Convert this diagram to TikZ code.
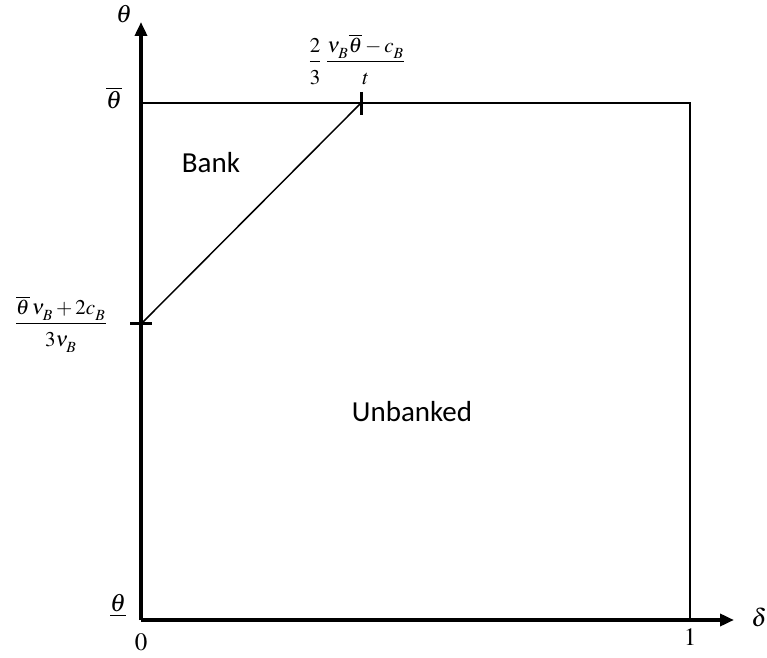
\documentclass[tikz,border=0pt]{standalone}
\usepackage{amsmath}
\usepackage{mathptmx}
\usepackage{fontspec}
\setmainfont{Liberation Serif}
\newfontfamily\calibri{Carlito}
\usepackage{tikz}
\usetikzlibrary{arrows.meta, positioning}
\newcommand{\subB}{_{\lower1.5pt\hbox{$\scriptstyle B$}}}

\begin{document}
\begin{tikzpicture}[x=0.5pt, y=-0.5pt,
    axis/.style={line width=2pt, -{Triangle[length=7pt,width=6pt]}},
    edge/.style={line width=1pt},
    diag/.style={line width=0.75pt},
    tick/.style={line width=1.5pt},
    lbl/.style={font=\fontsize{12.5}{14}\selectfont, inner sep=1pt},
    frac/.style={font=\fontsize{10.5}{12}\selectfont, inner sep=0pt},
    region/.style={font=\calibri\fontsize{14.5}{16}\selectfont}]
  \useasboundingbox (0,0) rectangle (767,658);
  % corners of the square and axis ends
  \coordinate (O) at (141,620);
  \coordinate (ytip) at (141,22);
  \coordinate (xtip) at (734,620);
  \coordinate (tl) at (141,103);
  \coordinate (tr) at (690,103);
  \coordinate (br) at (690,620);
  \coordinate (lo) at (141,324);
  \coordinate (hi) at (361,103);
  % square and boundary line
  \draw[edge] (tl) -- (tr) -- (br);
  \draw[diag] (lo) -- (hi);
  \draw[tick] (lo) ++(-11,0) coordinate (lo1) -- ++(22,0) coordinate (lo2);
  \draw[tick] (hi) ++(0,-11) coordinate (hi1) -- ++(0,23) coordinate (hi2);
  % axes
  \draw[axis] (O) -- (ytip);
  \draw[axis] (O) -- (xtip);
  % labels
  \node[lbl] (thetalab) at (124,14) {$\theta$};
  \node[lbl] (deltalab) at (759,617) {$\delta$};
  \node[lbl] (thetabar) at (114,98) {$\overline{\theta}$};
  \node[lbl] (thetaund) at (118,606) {$\underline{\theta}$};
  \node[lbl] (zero) at (141,642) {$0$};
  \node[lbl] (one) at (690,637) {$1$};
  \node[frac, anchor=base] (lofrac) at (61,329)
    {$\dfrac{\overline{\theta}\,\nu\subB+2c\subB\rule[-3pt]{0pt}{0pt}}{\rule{0pt}{10pt}3\nu\subB}$};
  \node[frac, anchor=base west] (hifrac) at (307,67)
    {$\dfrac{2\rule[-2pt]{0pt}{0pt}}{\rule{0pt}{10pt}3}\,\dfrac{\nu\subB\overline{\theta}-c\subB\rule[-2pt]{0pt}{0pt}}{\rule{0pt}{10pt}t}$};
  \node[region] (bank) at (211,163) {Bank};
  \node[region] (unbanked) at (412,412) {Unbanked};
\end{tikzpicture}
\end{document}
